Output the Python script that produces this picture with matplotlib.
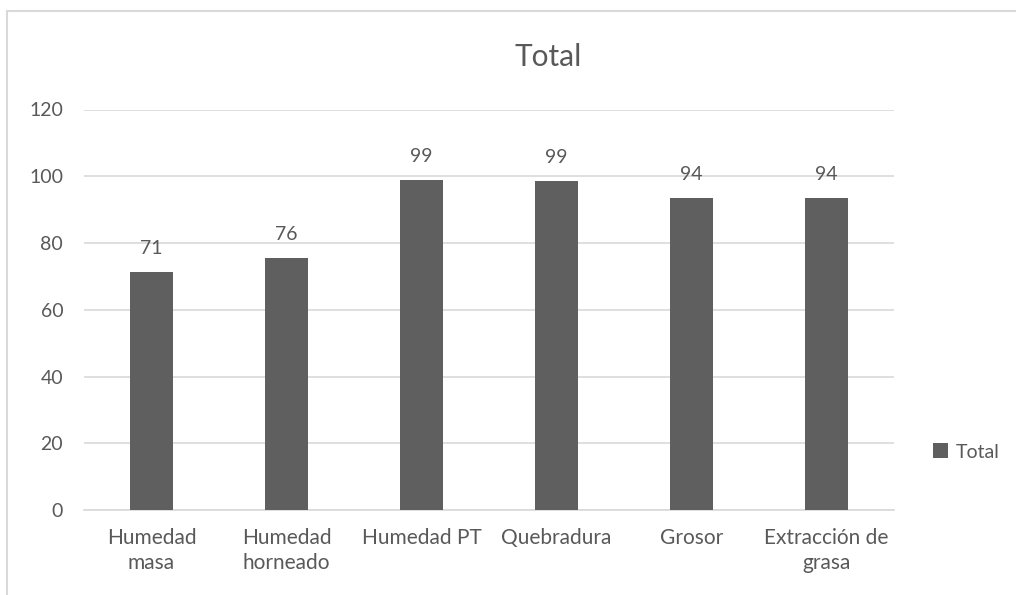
import matplotlib
matplotlib.use("Agg")
import matplotlib.pyplot as plt
from matplotlib.patches import Rectangle

categories = ["Humedad\nmasa", "Humedad\nhorneado", "Humedad PT", "Quebradura",
              "Grosor", "Extracción de\ngrasa"]
values = [71.2, 75.6, 99.0, 98.6, 93.5, 93.5]
yticks = [0, 20, 40, 60, 80, 100, 120]

BAR_COLOR = "#5f5f5f"
TEXT_COLOR = "#595959"
GRID_COLOR = "#d9d9d9"
FS = 14

plt.rcParams["font.family"] = ["Lato", "DejaVu Sans"]

W, H = 1016, 595
fig = plt.figure(figsize=(W / 100, H / 100), dpi=100)

# outer chart border (Excel style)
fig.add_artist(Rectangle((7 / W, -0.01), 1.2, 1 - 11 / H + 0.01,
                         transform=fig.transFigure, fill=False,
                         edgecolor=GRID_COLOR, linewidth=1.5))

left, right = 84, 894
bottom, top = 510, 109.5
ax = fig.add_axes([left / W, 1 - bottom / H, (right - left) / W, (bottom - top) / H])

x = range(len(categories))
bars = ax.bar(x, values, width=0.32, color=BAR_COLOR, label="Total", zorder=3)
for xi, v in zip(x, values):
    ax.text(xi, v + 4.5, f"{v:.0f}", ha="center", va="bottom",
            fontsize=FS, color=TEXT_COLOR)

ax.set_xlim(-0.5, len(categories) - 0.5)
ax.set_ylim(0, 120)
ax.set_yticks(yticks)
ax.set_xticks(list(x))
ax.set_xticklabels(categories, fontsize=15, color=TEXT_COLOR, linespacing=1.3)
ax.tick_params(axis="y", labelsize=FS, labelcolor=TEXT_COLOR, length=0, pad=15)
ax.tick_params(axis="x", length=0, pad=13)
ax.grid(axis="y", color=GRID_COLOR, linewidth=1.2, zorder=0)
for s in ["top", "right", "left"]:
    ax.spines[s].set_visible(False)
ax.spines["bottom"].set_color(GRID_COLOR)
ax.spines["bottom"].set_linewidth(1.2)

fig.text(548 / W, 1 - 57 / H, "Total", ha="center", va="center",
         fontsize=21.5, color=TEXT_COLOR)

fig.legend(handles=[bars], loc="center left", bbox_to_anchor=(915 / W, 1 - 452 / H),
           frameon=False, fontsize=FS, labelcolor=TEXT_COLOR,
           handlelength=0.8, handleheight=0.8, handletextpad=0.4)

fig.savefig("out.png", dpi=100, facecolor="white")
